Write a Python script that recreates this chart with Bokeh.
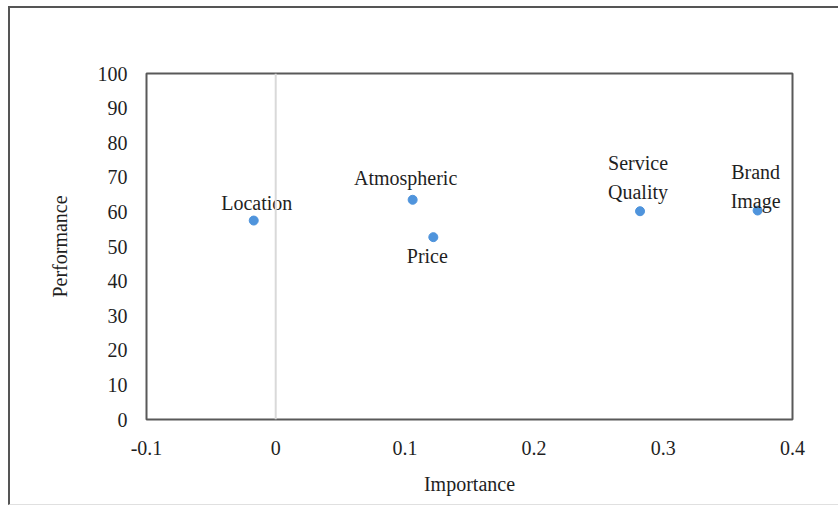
from bokeh.plotting import figure
from bokeh.models import Span, Range1d, FixedTicker, ColumnDataSource
from bokeh.core.properties import value
from bokeh.embed import file_html
from bokeh.resources import INLINE

# data
names = ["Location", "Atmospheric", "Price", "Service\nQuality", "Brand\nImage"]
importance = [-0.017, 0.106, 0.122, 0.282, 0.373]
performance = [57.5, 63.5, 52.7, 60.2, 60.4]
x_ticks = [-0.1, 0, 0.1, 0.2, 0.3, 0.4]
y_ticks = [0, 10, 20, 30, 40, 50, 60, 70, 80, 90, 100]

# label styling (screen offsets)
label_dx = [3, -7, -6, -2, -2]
label_dy = [-18, -22, 19, -34, -24]

FONT = "Liberation Serif"
TXT = "#1f1f1f"

p = figure(width=830, height=499, output_backend="svg", toolbar_location=None,
           x_range=Range1d(-0.1, 0.4), y_range=Range1d(0, 100),
           min_border_left=136, min_border_right=48, min_border_top=65, min_border_bottom=88)
p.styles = {"border-left": "2px solid #555555", "border-top": "2px solid #555555",
            "border-bottom": "1px solid #e0e0e0", "margin-left": "8px", "margin-top": "6px"}

p.xgrid.visible = False
p.ygrid.visible = False
p.outline_line_color = "#595959"
p.outline_line_width = 2

for ax in (p.xaxis[0], p.yaxis[0]):
    ax.axis_line_color = None
    ax.major_tick_line_color = None
    ax.minor_tick_line_color = None
    ax.major_label_text_font = FONT
    ax.major_label_text_font_size = "20px"
    ax.major_label_text_color = TXT
    ax.axis_label_text_font = FONT
    ax.axis_label_text_font_size = "20px"
    ax.axis_label_text_font_style = "normal"
    ax.axis_label_text_color = TXT

p.xaxis.ticker = FixedTicker(ticks=x_ticks)
p.yaxis.ticker = FixedTicker(ticks=y_ticks)
p.xaxis.major_label_overrides = {t: ("0" if t == 0 else str(t)) for t in x_ticks}
p.xaxis.major_label_standoff = 15
p.yaxis.major_label_standoff = 13
p.xaxis.axis_label = "Importance"
p.yaxis.axis_label = "Performance"
p.xaxis.axis_label_standoff = 15
p.yaxis.axis_label_standoff = 24

p.add_layout(Span(location=0, dimension="height", line_color="#d9d9d9", line_width=2))

src = ColumnDataSource(dict(x=importance, y=performance, name=names, dx=label_dx, dy=label_dy))
p.scatter("x", "y", source=src, size=9, color="#4f94dc")
p.text("x", "y", text="name", source=src, x_offset="dx", y_offset="dy",
       text_align="center", text_baseline="middle", text_font=value(FONT),
       text_font_size="20px", text_color=TXT, text_line_height=1.3)

open("out.html", "w").write(file_html(p, INLINE))
